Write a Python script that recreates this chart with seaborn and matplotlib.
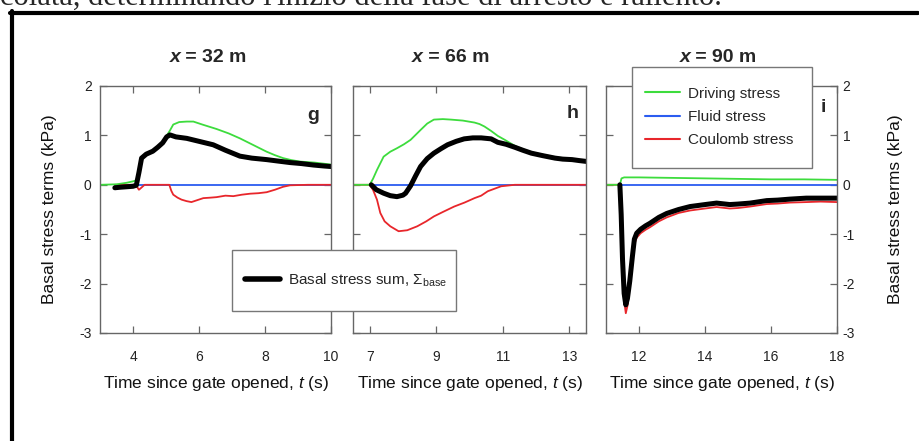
import numpy as np
import matplotlib
matplotlib.use('Agg')
import matplotlib.pyplot as plt
from matplotlib.lines import Line2D
from matplotlib.patches import Rectangle
from matplotlib.offsetbox import TextArea, HPacker, AnnotationBbox
import seaborn as sns

sns.set_theme(style='ticks')
plt.rcParams['font.family'] = ['Liberation Sans', 'DejaVu Sans']
plt.rcParams['mathtext.fontset'] = 'custom'
plt.rcParams['mathtext.rm'] = 'Liberation Sans'
plt.rcParams['mathtext.it'] = 'Liberation Sans:italic'
plt.rcParams['axes.unicode_minus'] = False

# panel g  (x = 32 m)
g_sum_t = [3.45, 3.6, 3.8, 4.0, 4.1, 4.18, 4.26, 4.4, 4.6, 4.75, 4.9, 5.02, 5.12, 5.3, 5.63, 6.0, 6.43, 6.8,
           7.24, 7.6, 8.05, 8.4, 8.76, 9.1, 9.47, 9.8, 10.0]
g_sum_y = [-0.06, -0.05, -0.04, -0.03, -0.01, 0.25, 0.54, 0.62, 0.68, 0.76, 0.85, 0.97, 1.01, 0.97, 0.94, 0.88,
           0.81, 0.70, 0.58, 0.54, 0.51, 0.48, 0.45, 0.43, 0.40, 0.38, 0.37]
g_drv_t = [3.0, 3.5, 3.8, 4.0, 4.1, 4.18, 4.26, 4.4, 4.6, 4.75, 4.9, 5.02, 5.12, 5.22, 5.4, 5.63, 5.83, 6.1,
           6.53, 6.9, 7.24, 7.6, 8.05, 8.3, 8.55, 8.8, 9.06, 9.5, 10.0]
g_drv_y = [0.0, 0.01, 0.04, 0.07, 0.09, 0.3, 0.56, 0.64, 0.70, 0.78, 0.87, 0.99, 1.10, 1.22, 1.27, 1.28, 1.28,
           1.22, 1.13, 1.04, 0.94, 0.82, 0.67, 0.60, 0.54, 0.50, 0.47, 0.45, 0.41]
g_cou_t = [3.45, 4.0, 4.1, 4.18, 4.25, 4.35, 5.1, 5.16, 5.22, 5.35, 5.47, 5.62, 5.77, 5.95, 6.13, 6.35, 6.53,
           6.8, 7.04, 7.3, 7.55, 7.8, 8.05, 8.3, 8.55, 8.76, 9.3, 10.0]
g_cou_y = [0, 0, -0.02, -0.10, -0.06, 0, 0, -0.12, -0.20, -0.26, -0.30, -0.33, -0.35, -0.31, -0.27, -0.26,
           -0.25, -0.22, -0.23, -0.20, -0.18, -0.17, -0.15, -0.10, -0.04, -0.01, 0, 0]
g_fld_t = [3.45, 10.0]
g_fld_y = [0, 0]

# panel h  (x = 66 m)
h_sum_t = [7.05, 7.2, 7.42, 7.62, 7.82, 8.0, 8.08, 8.23, 8.38, 8.53, 8.73, 8.93, 9.14, 9.34, 9.6, 9.84, 10.1,
           10.35, 10.5, 10.65, 10.85, 11.1, 11.36, 11.6, 11.86, 12.2, 12.57, 12.8, 13.08, 13.3, 13.55]
h_sum_y = [0.0, -0.10, -0.17, -0.22, -0.24, -0.21, -0.17, -0.02, 0.18, 0.37, 0.53, 0.64, 0.73, 0.81, 0.88,
           0.93, 0.95, 0.95, 0.94, 0.93, 0.86, 0.82, 0.76, 0.70, 0.64, 0.59, 0.54, 0.52, 0.51, 0.49, 0.47]
h_drv_t = [6.5, 7.0, 7.1, 7.22, 7.42, 7.62, 7.82, 8.03, 8.23, 8.38, 8.53, 8.73, 8.93, 9.2, 9.44, 9.8, 10.15,
           10.3, 10.45, 10.65, 10.85, 11.06, 11.36, 11.6, 11.86, 12.2, 12.57, 12.8, 13.08, 13.3, 13.55]
h_drv_y = [0.0, 0.0, 0.12, 0.30, 0.57, 0.67, 0.74, 0.82, 0.91, 1.01, 1.11, 1.24, 1.32, 1.33, 1.32, 1.30, 1.26,
           1.23, 1.18, 1.09, 0.99, 0.91, 0.79, 0.72, 0.66, 0.61, 0.56, 0.54, 0.52, 0.50, 0.49]
h_cou_t = [6.5, 7.0, 7.1, 7.22, 7.32, 7.45, 7.62, 7.87, 8.13, 8.43, 8.7, 8.93, 9.2, 9.54, 9.85, 10.15, 10.35,
           10.55, 10.75, 10.95, 11.36, 13.55]
h_cou_y = [0, 0, -0.1, -0.30, -0.57, -0.74, -0.84, -0.94, -0.92, -0.84, -0.74, -0.64, -0.55, -0.44, -0.36,
           -0.27, -0.22, -0.13, -0.08, -0.03, 0, 0]
h_fld_t = [7.05, 13.55]
h_fld_y = [0, 0]

# panel i  (x = 90 m)
i_sum_t = [11.42, 11.46, 11.5, 11.55, 11.6, 11.65, 11.72, 11.8, 11.86, 11.93, 12.05, 12.2, 12.33, 12.6, 12.84,
           13.2, 13.55, 14.0, 14.35, 14.75, 15.0, 15.37, 15.87, 16.2, 16.57, 17.07, 17.5, 18.0]
i_sum_y = [0.0, -0.6, -1.5, -2.2, -2.43, -2.3, -1.95, -1.45, -1.1, -0.98, -0.9, -0.83, -0.78, -0.66, -0.58,
           -0.50, -0.44, -0.40, -0.37, -0.40, -0.39, -0.37, -0.32, -0.31, -0.29, -0.27, -0.27, -0.27]
i_cou_t = [11.0, 11.42, 11.46, 11.5, 11.55, 11.6, 11.65, 11.72, 11.8, 11.86, 11.93, 12.05, 12.2, 12.33, 12.6,
           12.84, 13.2, 13.55, 14.0, 14.35, 14.75, 15.0, 15.37, 15.87, 16.2, 16.57, 17.07, 17.5, 18.0]
i_cou_y = [0, 0, -0.65, -1.6, -2.35, -2.6, -2.45, -2.05, -1.55, -1.2, -1.07, -0.98, -0.91, -0.86, -0.74,
           -0.66, -0.57, -0.52, -0.48, -0.45, -0.48, -0.47, -0.44, -0.39, -0.38, -0.36, -0.35, -0.34, -0.35]
i_drv_t = [11.0, 11.42, 11.47, 11.55, 12.0, 13.0, 14.0, 15.0, 16.0, 17.0, 18.0]
i_drv_y = [0, 0, 0.13, 0.15, 0.15, 0.14, 0.13, 0.12, 0.11, 0.11, 0.10]
i_fld_t = [11.42, 18.0]
i_fld_y = [0, 0]

titles = ['32', '66', '90']
letters = ['g', 'h', 'i']
xlims = [(3, 10), (6.5, 13.5), (11, 18)]
xticks = [[4, 6, 8, 10], [7, 9, 11, 13], [12, 14, 16, 18]]
yticks = [-3, -2, -1, 0, 1, 2]
term_names = ['Driving stress', 'Fluid stress', 'Coulomb stress']
sum_name = r'Basal stress sum, $\Sigma_{\mathrm{base}}$'

GREEN = '#3ddc3d'
BLUE = '#2b5cf0'
RED = '#e8262b'
SPINE = '#666666'

W, H = 919, 441
fig = plt.figure(figsize=(W / 100, H / 100), dpi=100)
fig.patch.set_facecolor('white')

boxes = [(100, 331), (353, 586), (606, 837)]
top, bot = 86, 333

panels = [
    (g_sum_t, g_sum_y, g_drv_t, g_drv_y, g_cou_t, g_cou_y, g_fld_t, g_fld_y),
    (h_sum_t, h_sum_y, h_drv_t, h_drv_y, h_cou_t, h_cou_y, h_fld_t, h_fld_y),
    (i_sum_t, i_sum_y, i_drv_t, i_drv_y, i_cou_t, i_cou_y, i_fld_t, i_fld_y),
]
title_x = [208, 451, 718]
letter_xy = [(313, 115), (573, 113), (823, 108)]

for k, (l, r) in enumerate(boxes):
    ax = fig.add_axes([l / W, 1 - bot / H, (r - l) / W, (bot - top) / H])
    st, sy, dt, dy, ct, cy, ft, fy = panels[k]
    sns.lineplot(x=ft, y=fy, ax=ax, color=BLUE, lw=1.3, sort=False, estimator=None)
    sns.lineplot(x=ct, y=cy, ax=ax, color=RED, lw=1.3, sort=False, estimator=None)
    sns.lineplot(x=dt, y=dy, ax=ax, color=GREEN, lw=1.3, sort=False, estimator=None)
    sns.lineplot(x=st, y=sy, ax=ax, color='black', lw=3.6, sort=False, estimator=None)
    ax.set_xlim(*xlims[k])
    ax.set_ylim(-3, 2)
    ax.set_xticks(xticks[k])
    ax.set_yticks(yticks)
    for s in ax.spines.values():
        s.set_color(SPINE)
        s.set_linewidth(1.0)
    ax.tick_params(direction='in', length=5, width=0.9, color=SPINE, top=True, right=True,
                   labelsize=10, labelcolor='#222222')
    ax.tick_params(axis='x', pad=12)
    ax.set_xlabel('Time since gate opened, $t$ (s)', fontsize=12.5, color='#111111')
    ax.xaxis.set_label_coords(0.5, -0.165)
    ax.set_ylabel('')
    if k == 0:
        ax.tick_params(axis='y', pad=6, labelleft=True, labelright=False)
        ax.set_ylabel('Basal stress terms (kPa)', fontsize=12.5, color='#111111')
        ax.yaxis.set_label_coords((57 - l) / (r - l), 0.5)
    elif k == 1:
        ax.tick_params(axis='y', labelleft=False, labelright=False)
    else:
        ax.tick_params(axis='y', pad=4, labelleft=False, labelright=True)
        ax.yaxis.set_label_position('right')
        ax.set_ylabel('Basal stress terms (kPa)', fontsize=12.5, color='#111111', rotation=90)
        ax.yaxis.set_label_coords((888 - l) / (r - l), 0.5)
    lx, ly = letter_xy[k]
    ax.text((lx - l) / (r - l), (bot - ly) / (bot - top), letters[k], transform=ax.transAxes,
            fontsize=14, fontweight='bold', ha='center', va='center')
    # title with italic x
    parts = HPacker(children=[TextArea('x', textprops=dict(fontsize=14, fontweight='bold', style='italic')),
                              TextArea(' = ' + titles[k] + ' m', textprops=dict(fontsize=14, fontweight='bold'))],
                    pad=0, sep=0, align='baseline')
    ab = AnnotationBbox(parts, (title_x[k] / W, 1 - 57 / H), xycoords='figure fraction', frameon=False,
                        box_alignment=(0.5, 0.5))
    fig.add_artist(ab)

# legend boxes drawn as plain rectangles so their size matches the original
for (x0, y0, x1, y1) in [(232, 250, 456, 311), (632, 67, 812, 168)]:
    fig.add_artist(Rectangle((x0 / W, 1 - y1 / H), (x1 - x0) / W, (y1 - y0) / H,
                             transform=fig.transFigure, facecolor='white', edgecolor='#777777',
                             lw=1.0, zorder=3))

h_sum = [Line2D([], [], color='black', lw=4)]
fig.legend(h_sum, [sum_name], loc='center left', bbox_to_anchor=(245 / W, 1 - 280 / H),
           borderaxespad=0, borderpad=0, frameon=False, fontsize=11, handlelength=2.3,
           handletextpad=0.5)

h_terms = [Line2D([], [], color=GREEN, lw=1.5), Line2D([], [], color=BLUE, lw=1.5),
           Line2D([], [], color=RED, lw=1.5)]
fig.legend(h_terms, term_names, loc='center left', bbox_to_anchor=(645 / W, 1 - 117 / H),
           borderaxespad=0, borderpad=0, frameon=False, fontsize=11, handlelength=2.3,
           handletextpad=0.5, labelspacing=0.62)

# page frame and clipped text line above the figure
fig.add_artist(Line2D([12 / W, 12 / W], [0, 1 - 11 / H], color='black', lw=3))
fig.add_artist(Line2D([10 / W, 918 / W], [1 - 13 / H, 1 - 13 / H], color='black', lw=3))
fig.text(0, 1 - 5 / H, "colata, determinando l'inizio della fase di arresto e rallento.",
         family='Liberation Serif', fontsize=22, va='baseline', ha='left')

fig.savefig('out.png', dpi=100)
